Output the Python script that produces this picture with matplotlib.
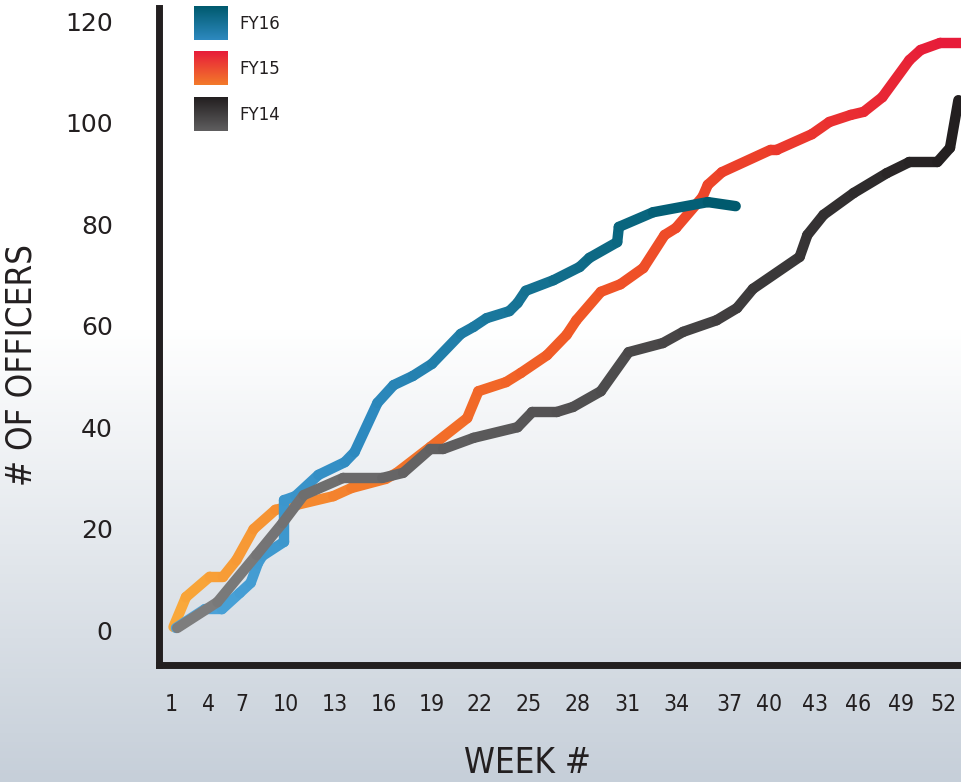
import numpy as np
import matplotlib
matplotlib.use('Agg')
import matplotlib.pyplot as plt
from matplotlib.collections import LineCollection
from matplotlib.colors import LinearSegmentedColormap

# values (week, # of officers)
fy16_week = [1.4, 3.7, 5.2, 6.8, 7.6, 8.1, 8.4, 9.9, 9.9, 10.6, 12.0, 13.6, 14.2, 15.6, 16.6, 17.8,
             19.0, 20.8, 21.6, 22.4, 23.8, 24.3, 24.8, 26.5, 28.1, 28.7, 30.4, 30.5, 32.6, 35.8, 37.5]
fy16_val = [0.4, 4.1, 4.1, 7.3, 9.3, 13.2, 14.6, 17.4, 25.6, 26.4, 30.6, 33.1, 35.1, 44.8, 48.3, 50.1,
            52.5, 58.4, 59.8, 61.5, 62.9, 64.5, 66.9, 69.0, 71.6, 73.4, 76.5, 79.5, 82.4, 84.4, 83.6]

fy15_week = [1.2, 2.2, 4.1, 5.3, 6.5, 7.8, 9.3, 10.7, 12.9, 14.0, 16.1, 16.8, 18.9, 21.2, 21.9, 23.6,
             24.5, 26.1, 27.3, 27.9, 29.4, 30.6, 32.0, 33.3, 34.0, 35.5, 35.8, 36.6, 40.1, 40.5, 42.8,
             44.0, 45.5, 46.4, 47.7, 49.6, 50.4, 51.8, 53.3]
fy15_val = [0.6, 6.5, 10.5, 10.5, 13.8, 19.9, 23.7, 24.7, 26.4, 28.0, 29.8, 31.0, 36.1, 41.8, 47.1, 48.9,
            50.7, 54.2, 58.2, 61.1, 66.7, 68.2, 71.4, 77.9, 79.3, 85.4, 87.8, 90.3, 94.7, 94.7, 97.8,
            100.2, 101.6, 102.2, 105.1, 112.4, 114.4, 115.8, 115.8]

fy14_week = [1.5, 4.8, 8.0, 9.8, 11.1, 13.5, 15.9, 17.2, 18.9, 19.7, 21.6, 24.3, 25.2, 26.7, 27.7, 29.4,
             31.1, 33.2, 34.4, 36.3, 37.6, 38.8, 42.0, 42.5, 43.6, 45.7, 48.0, 49.6, 51.6, 52.5, 53.1]
fy14_val = [0.4, 5.5, 14.8, 21.1, 26.6, 30.0, 30.0, 31.0, 35.7, 35.7, 37.9, 40.0, 43.0, 43.0, 44.0, 47.1,
            54.8, 56.6, 58.8, 61.1, 63.5, 67.3, 73.6, 77.9, 81.9, 86.2, 90.1, 92.3, 92.3, 95.1, 104.5]

series = ['FY16', 'FY15', 'FY14']
tick_weeks = [1, 4, 7, 10, 13, 16, 19, 22, 25, 28, 31, 34, 37, 40, 43, 46, 49, 52]
y_ticks = [0, 20, 40, 60, 80, 100, 120]

# the week axis on the original is hand spaced: pixel spot of every tick label
tick_px = [171, 208.5, 242, 285.5, 335, 384, 432, 480, 529, 578, 627, 676, 729, 769, 815, 858, 901, 943]

map_w = np.concatenate([[-10], tick_weeks, [70]])
map_px = np.concatenate([[tick_px[0] - 11 * 12.5], tick_px, [tick_px[-1] + 18 * 14]])


def fwd(w):
    return np.interp(w, map_w, map_px)


def inv(p):
    return np.interp(p, map_px, map_w)


ink = '#231f20'
grads = {
    'FY16': ['#4fa6dd', '#2d89bf', '#13708f', '#005a6e'],
    'FY15': ['#f9a83a', '#f37a2a', '#f05a26', '#ec3f2a', '#e71c3a'],
    'FY14': ['#7d7d7d', '#5f5e5f', '#444243', '#231f20'],
}

W, H = 961, 782
fig = plt.figure(figsize=(W / 100, H / 100), dpi=100)

# background gradient
bg = fig.add_axes([0, 0, 1, 1], zorder=0)
bg_cmap = LinearSegmentedColormap.from_list('bg', [(0, '#ffffff'), (0.42, '#ffffff'), (1, '#c6cfd9')])
bg.imshow(np.linspace(0, 1, 256).reshape(-1, 1), aspect='auto', cmap=bg_cmap, extent=[0, 1, 0, 1])
bg.axis('off')

ax = fig.add_axes([158.5 / W, (H - 665) / H, 1 - 158.5 / W, (665 - 8) / H], zorder=1)
ax.set_facecolor('none')
ax.set_xscale('function', functions=(fwd, inv))
ax.set_xlim(inv(158.5), inv(961))
ax.set_ylim((630 - 665) / 5.07, (630 - 8) / 5.07)


def grad_line(x, y, colors, z):
    x = np.asarray(x)
    y = np.asarray(y)
    pts = np.column_stack([x, y])
    segs = np.stack([pts[:-1], pts[1:]], axis=1)
    mid = fwd((x[:-1] + x[1:]) / 2)
    t = (mid - mid.min()) / (mid.max() - mid.min())
    cmap = LinearSegmentedColormap.from_list('g', colors)
    lc = LineCollection(segs, colors=cmap(t), linewidths=7.5, capstyle='round', joinstyle='round', zorder=z)
    ax.add_collection(lc)


grad_line(fy15_week, fy15_val, grads['FY15'], 2)
grad_line(fy16_week, fy16_val, grads['FY16'], 3)
grad_line(fy14_week, fy14_val, grads['FY14'], 4)

for side in ['top', 'right']:
    ax.spines[side].set_visible(False)
for side in ['left', 'bottom']:
    ax.spines[side].set_linewidth(5)
    ax.spines[side].set_color(ink)
    ax.spines[side].set_capstyle('projecting')

ax.set_xticks(tick_weeks)
ax.set_xticklabels([str(w) for w in tick_weeks], fontsize=16.5, color=ink, fontstretch='condensed')
ax.set_yticks(y_ticks)
ax.set_yticklabels([str(v) for v in y_ticks], fontsize=18, color=ink)
ax.tick_params(axis='x', length=0, pad=20)
ax.tick_params(axis='y', length=0, pad=33)

fig.text(527 / W, 1 - 763 / H, 'WEEK #', fontsize=25, color=ink, ha='center', va='center',
         fontstretch='condensed')
fig.text(22 / W, 1 - 365 / H, '# OF OFFICERS', fontsize=25, color=ink, ha='center', va='center',
         rotation=90, fontstretch='condensed')

# legend: small gradient squares
sq_top = [6, 51, 97]
for name, top in zip(series, sq_top):
    sq = fig.add_axes([194 / W, 1 - (top + 34) / H, 34 / W, 34 / H], zorder=2)
    sq.imshow(np.linspace(0, 1, 64).reshape(-1, 1), aspect='auto',
              cmap=LinearSegmentedColormap.from_list('s', [grads[name][-1], grads[name][1]]))
    sq.axis('off')
    fig.text(239 / W, 1 - (top + 18) / H, name, fontsize=12, color=ink, va='center', ha='left')

plt.savefig('out.png', dpi=100)
